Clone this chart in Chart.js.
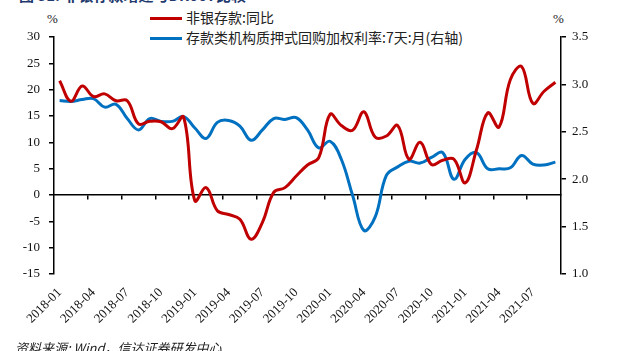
<!DOCTYPE html>
<html>
<head>
<meta charset="utf-8">
<script src="https://cdn.jsdelivr.net/npm/chart.js@4"></script>
<style>
    body { margin: 0; background: #fff; }
    #wrap { position: relative; width: 619px; height: 351px; overflow: hidden; }
    #chartLine { position: absolute; left: 0; top: 0; }
    .title { position: absolute; left: 19px; top: -13px; font: bold 15px/15px "Noto Sans CJK SC", sans-serif; color: #1f3a6e; white-space: nowrap; }
    .source { position: absolute; left: 15px; top: 340px; font: italic 13px/16px "Noto Sans CJK SC", sans-serif; color: #222; white-space: nowrap; }
    .unit { position: absolute; top: 11px; font: 13px "Liberation Serif", "Times New Roman", serif; color: #222; }
    .legend { position: absolute; left: 150px; font: 14px/16px "Noto Sans CJK SC", sans-serif; color: #222; white-space: nowrap; }
    .legend span { display: inline-block; width: 32px; height: 3px; vertical-align: middle; margin-right: 4px; position: relative; top: -1px; }
</style>
</head>
<body>
<div id="wrap">
    <div class="title">图 31: 非银存款增速与DR007比较</div>
    <div class="unit" style="left:47px">%</div>
    <div class="unit" style="left:553px">%</div>
    <div class="legend" style="top:9px"><span style="background:#c00000"></span>非银存款:同比</div>
    <div class="legend" style="top:29px"><span style="background:#0070c0"></span>存款类机构质押式回购加权利率:7天:月(右轴)</div>
    <canvas id="chartLine" width="619" height="351"></canvas>
    <div class="source">资料来源: Wind，信达证券研发中心</div>
</div>
<script>
// 月份
const labels = [
    '2018-01', '2018-02', '2018-03', '2018-04', '2018-05', '2018-06', '2018-07', '2018-08', '2018-09',
    '2018-10', '2018-11', '2018-12', '2019-01', '2019-02', '2019-03', '2019-04', '2019-05', '2019-06',
    '2019-07', '2019-08', '2019-09', '2019-10', '2019-11', '2019-12', '2020-01', '2020-02', '2020-03',
    '2020-04', '2020-05', '2020-06', '2020-07', '2020-08', '2020-09', '2020-10', '2020-11', '2020-12',
    '2021-01', '2021-02', '2021-03', '2021-04', '2021-05', '2021-06', '2021-07', '2021-08', '2021-09'
];

// 非银存款:同比 (%)
const nonBankYoY = [
    21.7, 17.8, 20.7, 18.7, 19.2, 17.9, 17.9, 13.5, 14.0,
    13.9, 12.6, 14.8, -1.1, 1.4, -3.0, -3.7, -4.6, -8.4,
    -5.2, 0.5, 1.4, 3.6, 5.7, 7.1, 15.3, 13.2, 12.3,
    15.8, 11.0, 11.2, 13.2, 6.8, 10.0, 5.8, 6.6, 6.8,
    2.3, 8.6, 15.6, 12.9, 21.9, 24.4, 17.4, 19.7, 21.4
];

// 存款类机构质押式回购加权利率:7天:月 (右轴)
const dr007 = [
    2.83, 2.82, 2.84, 2.85, 2.76, 2.79, 2.64, 2.52, 2.64,
    2.61, 2.61, 2.66, 2.54, 2.43, 2.60, 2.62, 2.56, 2.41,
    2.52, 2.64, 2.63, 2.65, 2.52, 2.33, 2.40, 2.21, 1.83,
    1.46, 1.60, 2.04, 2.13, 2.19, 2.17, 2.23, 2.28, 2.00,
    2.21, 2.28, 2.11, 2.11, 2.12, 2.25, 2.16, 2.15, 2.18
];

// 左轴 / 右轴刻度
const leftTicks = { min: -15, max: 30, step: 5 };
const rightTicks = { min: 1.0, max: 3.5, step: 0.5 };

const tickFont = { family: "'Liberation Serif', 'Times New Roman', serif", size: 13 };

const data = {
    labels: labels,
    datasets: [
        {
            label: "非银存款:同比",
            data: nonBankYoY,
            borderColor: "#c00000",
            backgroundColor: "#c00000",
            yAxisID: "y",
            xAxisID: "x",
        },
        {
            label: "存款类机构质押式回购加权利率:7天:月(右轴)",
            data: dr007,
            borderColor: "#0070c0",
            backgroundColor: "#0070c0",
            yAxisID: "y1",
            xAxisID: "x",
        }
    ],
};

const configLineChart = {
    type: "line",
    data,
    options: {
        responsive: false,
        animation: false,
        layout: { padding: { top: 37, left: 0, right: 0, bottom: 0 } },
        elements: {
            point: { radius: 0 },
            line: { borderWidth: 3, tension: 0.4 },
        },
        plugins: {
            legend: { display: false },
            tooltip: { enabled: false },
        },
        scales: {
            // 零轴 (带刻度)
            x: {
                type: "category",
                position: { y: 0 },
                offset: true,
                grid: {
                    offset: true,
                    drawOnChartArea: false,
                    drawTicks: true,
                    tickLength: 4,
                    lineWidth: 1.5,
                    color: (ctx) => (ctx.index > 0 && ctx.index < labels.length && ctx.index % 3 === 0) ? "#000" : "rgba(0,0,0,0)",
                },
                border: { display: true, color: "#000", width: 1.5 },
                ticks: { display: false },
            },
            // 底部日期标签
            x2: {
                type: "category",
                position: "bottom",
                offset: true,
                grid: { display: false },
                border: { display: false },
                ticks: {
                    autoSkip: false,
                    maxRotation: 45,
                    minRotation: 45,
                    padding: 3,
                    color: "#111",
                    font: tickFont,
                    callback: (v, i) => (i % 3 === 0 ? labels[i] : ""),
                },
                afterFit: (scale) => { scale.height = 77; },
            },
            y: {
                position: "left",
                min: leftTicks.min,
                max: leftTicks.max,
                grid: { drawOnChartArea: false, drawTicks: true, tickLength: 5, color: "#000", lineWidth: 1.5 },
                border: { display: true, color: "#000", width: 1.5 },
                ticks: { stepSize: leftTicks.step, padding: 9, color: "#111", font: tickFont },
                afterFit: (scale) => { scale.width = 54; },
            },
            y1: {
                position: "right",
                min: rightTicks.min,
                max: rightTicks.max,
                grid: { drawOnChartArea: false, drawTicks: true, tickLength: 5, color: "#000", lineWidth: 1.5 },
                border: { display: true, color: "#000", width: 1.5 },
                ticks: {
                    stepSize: rightTicks.step,
                    padding: 6,
                    color: "#111",
                    font: tickFont,
                    callback: (v) => Number(v).toFixed(1),
                },
                afterFit: (scale) => { scale.width = 58; },
            },
        },
    },
};

var chartLine = new Chart(
    document.getElementById("chartLine"),
    configLineChart
);
</script>
</body>
</html>
